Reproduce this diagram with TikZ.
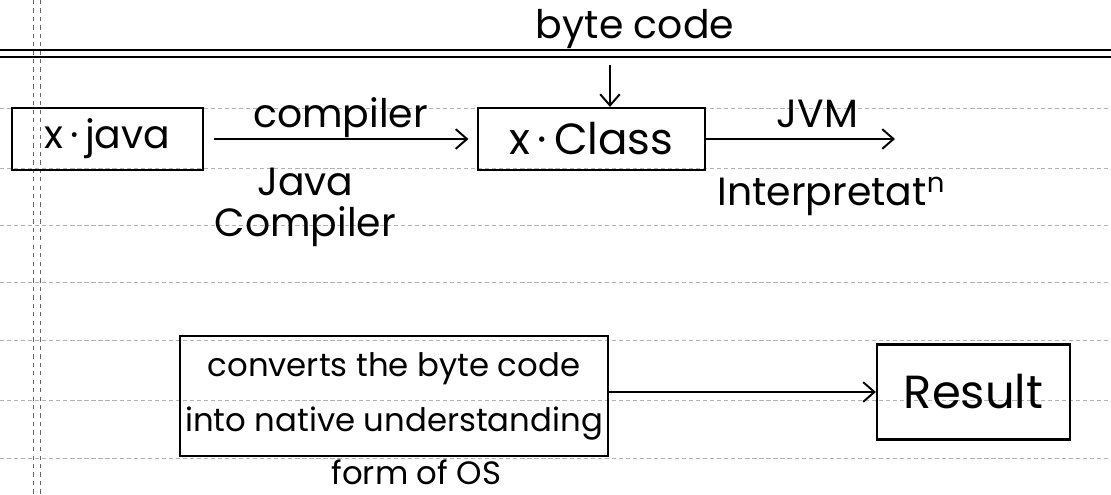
\documentclass[tikz,border=0pt]{standalone}
\usepackage{fontspec}
\setmainfont{Poppins}
\usetikzlibrary{positioning,arrows.meta}
\tikzset{>={Straight Barb[length=8pt,width=14pt]}}
\newcommand*{\hand}{\fontsize{28}{30}\selectfont}
\tikzset{
  box/.style={draw,line width=1.5pt,inner sep=2pt,font=\hand},
  lbl/.style={font=\hand,inner sep=2pt},
  flow/.style={->,line width=1.4pt},
  rule/.style={black!30,densely dashed,line width=.5pt}
}

\begin{document}
\begin{tikzpicture}[x=0.025cm,y=-0.025cm]
\path[use as bounding box,fill=white] (0,0) rectangle (1111,494);
% ruled paper
\foreach \y in {108,168,225,282,340,400,458}
  \draw[rule] (0,\y) -- (1111,\y);
\draw[line width=.8pt] (0,50) -- (1111,50) (0,57) -- (1111,57);
\draw[black!60,dashed,line width=.6pt] (33,0) -- (33,494) (40,0) -- (40,494);

\node[box,minimum width=4.775cm,minimum height=1.55cm] (java) at (107.5,139) {x\,·\,java};
\node[box,minimum width=5.675cm,minimum height=1.55cm,font=\fontsize{31}{33}\selectfont] (class) at (591.5,139) {x\,·\,Class};
\node[box,minimum width=10.7cm,minimum height=3cm,align=center,font=\fontsize{23}{39}\selectfont] (conv) at (394,396)
  {converts the byte code\\into native understanding};
\node[box,minimum width=4.825cm,minimum height=2.375cm,font=\fontsize{33}{35}\selectfont] (result) at (973.5,392) {Result};

\node[lbl] (bytecode) at (635,29) {byte code};
\coordinate (bctop) at (610,65);
\coordinate (jvmend) at (895,139);
\node[lbl,below=2pt of conv,xshift=16,inner sep=0pt,font=\fontsize{23}{25}\selectfont] (osform) {form of OS};

\draw[flow] (bctop) -- (bctop |- class.north);
\draw[flow,shorten <=7pt,shorten >=6pt] (java) -- node[lbl,above,yshift=-2] {compiler}
  node[lbl,below,align=center,yshift=-18,xshift=-25,font=\fontsize{28}{29}\selectfont] {Java\\Compiler} (class);
\draw[flow] (class) -- node[lbl,above,xshift=12,yshift=5] {JVM} (jvmend);
\node[lbl,anchor=north west] (interp) at ([xshift=6,yshift=-2]class.south east) {Interpretat\textsuperscript{n}};
\draw[flow] (result.west -| conv.east) -- (result.west);
\end{tikzpicture}
\end{document}
